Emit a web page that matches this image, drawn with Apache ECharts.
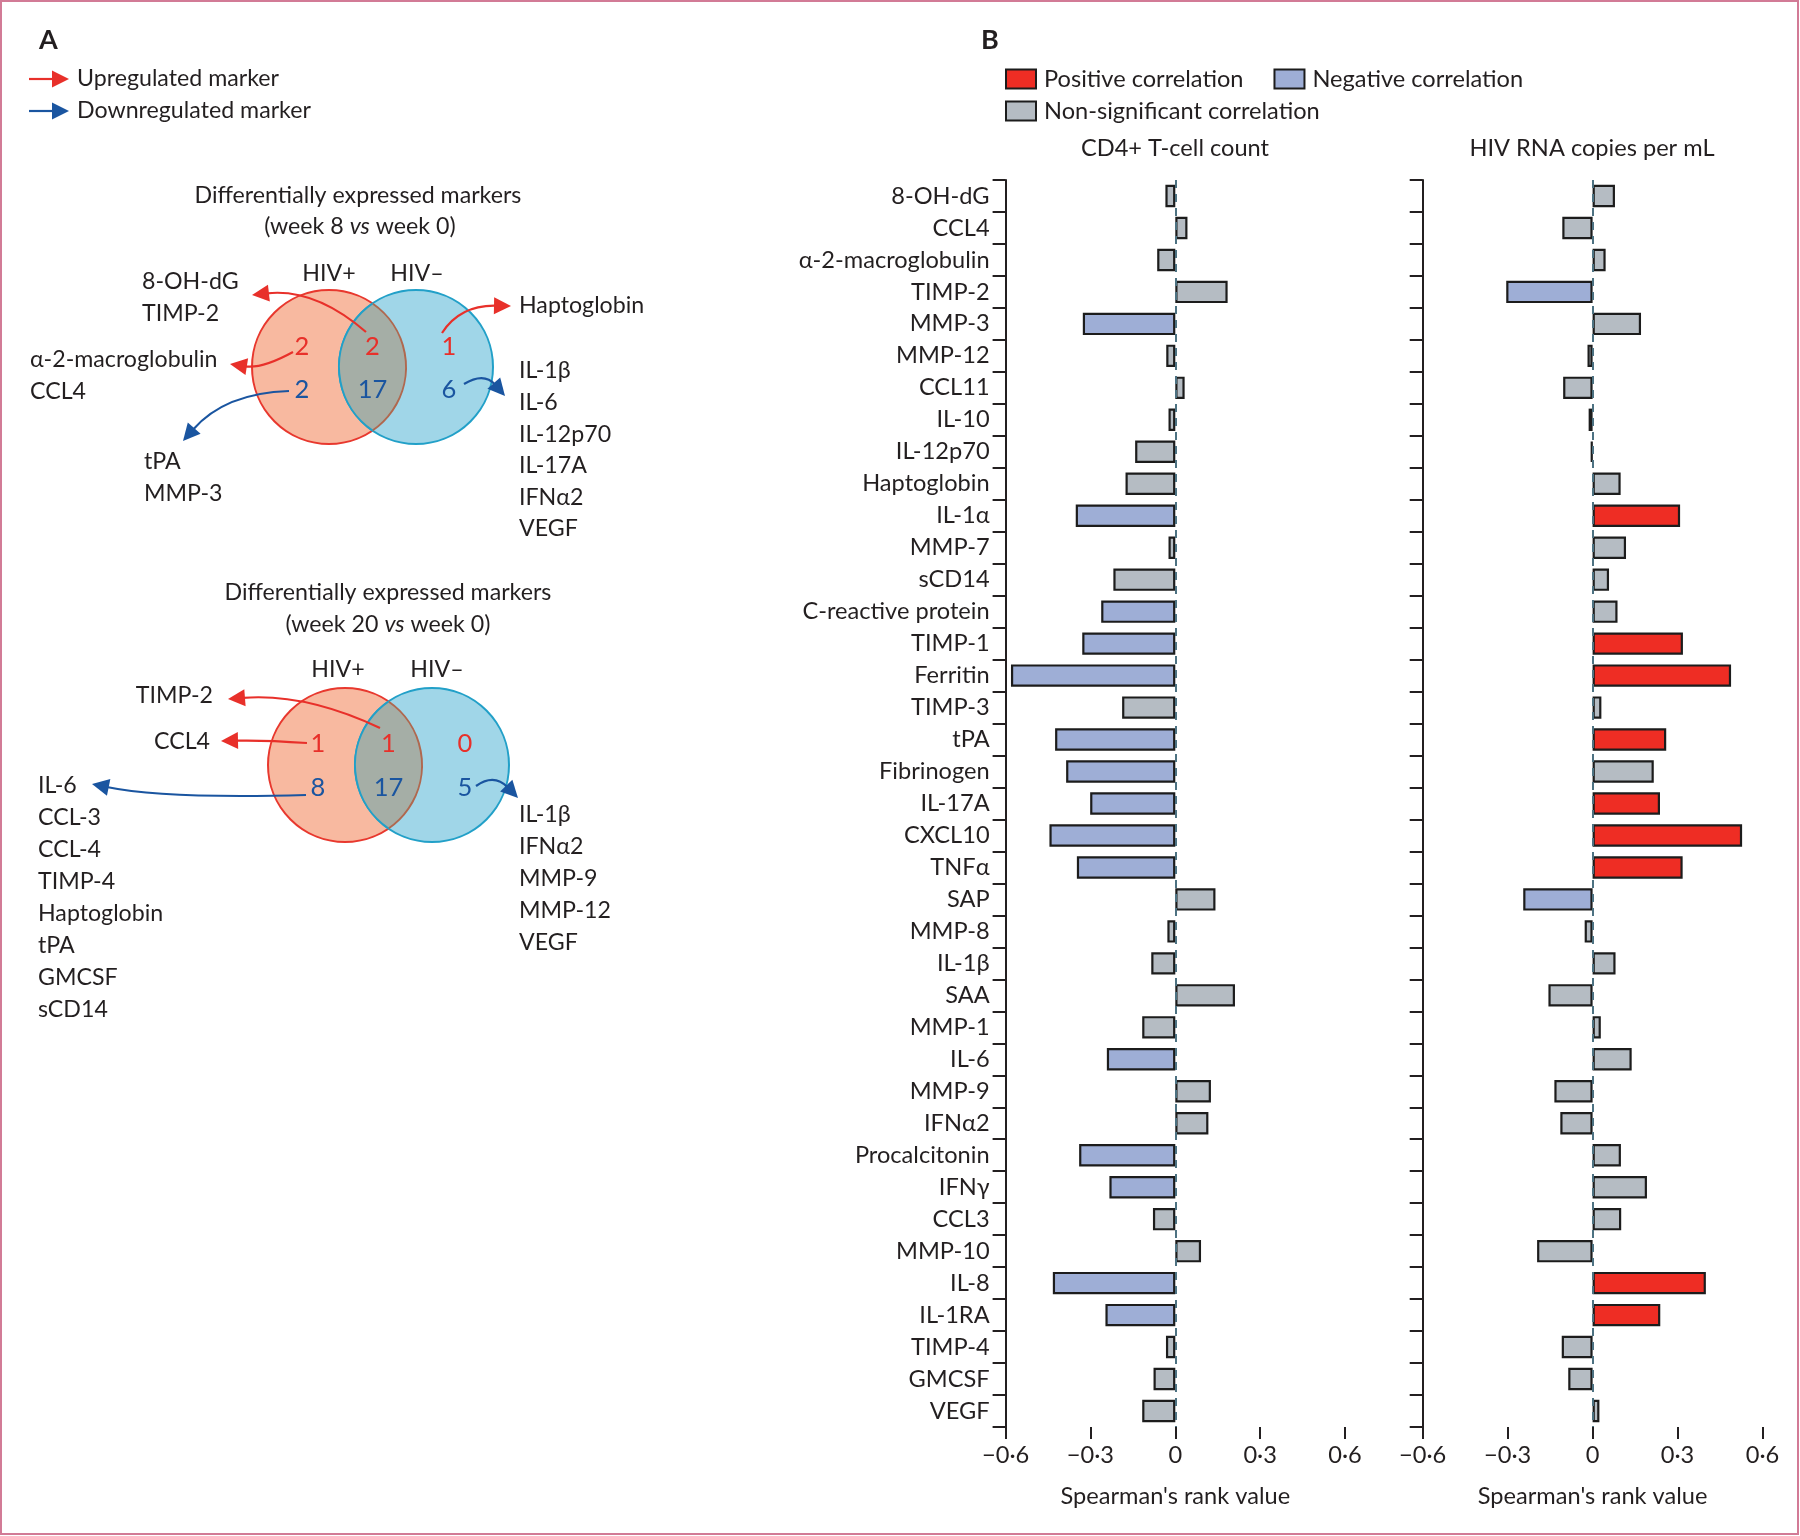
<!DOCTYPE html>
<html><head><meta charset="utf-8">
<script src="https://cdn.jsdelivr.net/npm/echarts@6/dist/echarts.min.js"></script>
<style>html,body{margin:0;padding:0;background:#fff}#c{width:1800px;height:1536px}</style>
</head><body><div id="c"></div>
<script>
// ---------- Panel B data ----------
const markers = ['8-OH-dG','CCL4','α-2-macroglobulin','TIMP-2','MMP-3','MMP-12','CCL11','IL-10','IL-12p70','Haptoglobin','IL-1α','MMP-7','sCD14','C-reactive protein','TIMP-1','Ferritin','TIMP-3','tPA','Fibrinogen','IL-17A','CXCL10','TNFα','SAP','MMP-8','IL-1β','SAA','MMP-1','IL-6','MMP-9','IFNα2','Procalcitonin','IFNγ','CCL3','MMP-10','IL-8','IL-1RA','TIMP-4','GMCSF','VEGF'];
const cd4Values = [-0.035,0.043,-0.064,0.185,-0.327,-0.032,0.033,-0.024,-0.142,-0.176,-0.352,-0.024,-0.219,-0.262,-0.329,-0.581,-0.188,-0.425,-0.386,-0.301,-0.445,-0.348,0.142,-0.028,-0.085,0.211,-0.117,-0.242,0.126,0.117,-0.34,-0.233,-0.079,0.091,-0.433,-0.247,-0.033,-0.077,-0.117];
const cd4Sig = ['ns','ns','ns','ns','neg','ns','ns','ns','ns','ns','neg','ns','ns','neg','neg','neg','ns','neg','neg','neg','neg','neg','ns','ns','ns','ns','ns','neg','ns','ns','neg','neg','ns','ns','neg','neg','ns','ns','ns'];
const hivValues = [0.079,-0.107,0.046,-0.305,0.171,-0.018,-0.104,-0.014,-0.006,0.099,0.309,0.118,0.058,0.088,0.319,0.489,0.031,0.26,0.216,0.238,0.528,0.318,-0.245,-0.028,0.081,-0.156,0.029,0.138,-0.135,-0.114,0.1,0.192,0.101,-0.196,0.4,0.239,-0.109,-0.086,0.024];
const hivSig = ['ns','ns','ns','neg','ns','ns','ns','ns','ns','ns','pos','ns','ns','ns','pos','pos','ns','pos','ns','pos','pos','pos','neg','ns','ns','ns','ns','ns','ns','ns','ns','ns','ns','ns','pos','pos','ns','ns','ns'];
const xTicks = [-0.6, -0.3, 0, 0.3, 0.6];
const legendNames = ['Positive correlation','Negative correlation','Non-significant correlation'];
const panelTitles = ['CD4+ T-cell count','HIV RNA copies per mL'];

// ---------- Panel A data ----------
const venn8Up = [2, 2, 1];     // HIV+ only, both, HIV- only
const venn8Down = [2, 17, 6];
const venn20Up = [1, 1, 0];
const venn20Down = [8, 17, 5];
const w8UpBoth = ['8-OH-dG','TIMP-2'];
const w8UpHivPos = ['α-2-macroglobulin','CCL4'];
const w8UpHivNeg = ['Haptoglobin'];
const w8DownHivPos = ['tPA','MMP-3'];
const w8DownHivNeg = ['IL-1β','IL-6','IL-12p70','IL-17A','IFNα2','VEGF'];
const w20UpBoth = ['TIMP-2'];
const w20UpHivPos = ['CCL4'];
const w20DownHivPos = ['IL-6','CCL-3','CCL-4','TIMP-4','Haptoglobin','tPA','GMCSF','sCD14'];
const w20DownHivNeg = ['IL-1β','IFNα2','MMP-9','MMP-12','VEGF'];

// ---------- styles ----------
const FONT = 'Lato, "Open Sans", sans-serif';
const FS_A = 23.2, FS_B = 23.6;
const INK = '#231f20';
const RED = '#e8302a', BLUE = '#1a55a0';
const sigColors = {pos:'#ee2d24', neg:'#9eaed6', ns:'#b5bcc3'};
const BORDER = '#1c1c1c';

function fmtTick(v){
  if (Math.abs(v) < 1e-9) return '0';
  return (v < 0 ? '\u2212' : '') + Math.abs(v).toFixed(1).replace('.', '\u00b7');
}

const G = [];
function txt(x, y, text, o){
  o = o || {};
  const st = {text:text, fontSize:o.size||FS_A, fontFamily:FONT,
    fontWeight:o.weight||'normal', fill:o.color||INK, textAlign:o.align||'left', textVerticalAlign:'middle'};
  if (o.rich) st.rich = o.rich;
  G.push({type:'text', x:x, y:y, z:o.z||20, style:st});
}
function list(x, y0, items, step, align){
  items.forEach((t,i)=>txt(x, y0 + i*step, t, {align:align||'left'}));
}
function arrow(x0, y0, cx, cy, tx, ty, color){
  const L = 17, W = 8.5;
  let dx = tx - cx, dy = ty - cy; const d = Math.hypot(dx, dy); dx/=d; dy/=d;
  const bx = tx - dx*L, by = ty - dy*L;
  G.push({type:'bezierCurve', z:15, shape:{x1:x0, y1:y0, x2:bx+dx*2, y2:by+dy*2, cpx1:cx, cpy1:cy},
    style:{stroke:color, lineWidth:2.2, fill:null}});
  G.push({type:'polygon', z:15, shape:{points:[[tx,ty],[bx - dy*W, by + dx*W],[bx + dy*W, by - dx*W]]},
    style:{fill:color}});
}
function venn(cxR, cxB, cy, r, up, down, numY1, numY2){
  G.push({type:'circle', z:5, shape:{cx:cxR, cy:cy, r:r}, style:{fill:'#f8b9a0', stroke:'#e8382e', lineWidth:2}});
  G.push({type:'circle', z:6, shape:{cx:cxB, cy:cy, r:r}, style:{fill:'#a0d6e8', stroke:'#22a0c8', lineWidth:2}});
  const xm = (cxR + cxB)/2, half = (cxB - cxR)/2, h = Math.sqrt(r*r - half*half);
  const th = Math.atan2(h, half);
  const pts = [];
  const N = 40;
  for (let k=0;k<=N;k++){ const a = -th + 2*th*k/N; pts.push([cxR + r*Math.cos(a), cy + r*Math.sin(a)]); }
  for (let k=0;k<=N;k++){ const a = Math.PI - th + 2*th*k/N; pts.push([cxB + r*Math.cos(a), cy + r*Math.sin(a)]); }
  G.push({type:'polygon', z:7, shape:{points:pts}, style:{fill:'#a5aea6'}});
  G.push({type:'arc', z:8, shape:{cx:cxR, cy:cy, r:r, startAngle:-th, endAngle:th, clockwise:true}, style:{fill:null, stroke:'#b0684f', lineWidth:2}});
  G.push({type:'arc', z:8, shape:{cx:cxB, cy:cy, r:r, startAngle:Math.PI-th, endAngle:Math.PI+th, clockwise:true}, style:{fill:null, stroke:'#22a0c8', lineWidth:2}});
  const xs = [cxR - 27, xm, cxB + 33];
  up.forEach((n,i)=>txt(xs[i], numY1, String(n), {size:25.5, color:RED, align:'center'}));
  down.forEach((n,i)=>txt(xs[i], numY2, String(n), {size:25.5, color:BLUE, align:'center'}));
}

// Panel A header
txt(39, 40, 'A', {size:27, weight:'bold'});
arrow(29, 79, 40, 79, 69, 79, RED);
txt(77, 79, 'Upregulated marker');
arrow(29, 111, 40, 111, 69, 111, BLUE);
txt(77, 111, 'Downregulated marker');

const titleRich = {n:{fontSize:FS_A, fontFamily:FONT, fill:INK}, i:{fontSize:FS_A, fontFamily:FONT, fontStyle:'italic', fill:INK}};
// Venn week 8
txt(358, 196, 'Differentially expressed markers', {align:'center'});
txt(360, 227, '{n|(week 8 }{i|vs}{n| week 0)}', {align:'center', rich:titleRich});
txt(329, 274, 'HIV+', {align:'center'});
txt(417, 274, 'HIV\u2013', {align:'center'});
venn(329, 416, 367, 77, venn8Up, venn8Down, 347, 390);
list(142, 282, w8UpBoth, 32);
list(30, 360, w8UpHivPos, 32);
list(144, 462, w8DownHivPos, 32);
list(519, 306, w8UpHivNeg, 32);
list(519, 371, w8DownHivNeg, 31.6);
arrow(366, 332, 315, 288, 252, 295, RED);
arrow(293, 352, 262, 369, 230, 364, RED);
arrow(442, 333, 460, 305, 511, 306, RED);
arrow(289, 391, 225, 393, 183, 441, BLUE);
arrow(464, 384, 484, 372, 505, 396, BLUE);

// Venn week 20
txt(388, 593, 'Differentially expressed markers', {align:'center'});
txt(388, 625, '{n|(week 20 }{i|vs}{n| week 0)}', {align:'center', rich:titleRich});
txt(338, 670, 'HIV+', {align:'center'});
txt(437, 670, 'HIV\u2013', {align:'center'});
venn(345, 432, 765, 77, venn20Up, venn20Down, 744, 788);
list(213, 696, w20UpBoth, 32, 'right');
list(210, 742, w20UpHivPos, 32, 'right');
list(38, 786, w20DownHivPos, 31.9);
list(519, 815, w20DownHivNeg, 31.8);
arrow(380, 728, 306, 693, 228, 699, RED);
arrow(307, 743, 265, 740, 221, 741, RED);
arrow(306, 795, 165, 799, 92, 784, BLUE);
arrow(476, 786, 494, 773, 518, 798, BLUE);

// Panel B header / titles
txt(981, 40, 'B', {size:27, weight:'bold'});
txt(1175, 148, panelTitles[0], {align:'center', size:FS_B});
txt(1592, 148, panelTitles[1], {align:'center', size:FS_B});
// frame
G.push({type:'rect', z:1, shape:{x:1, y:1, width:1797, height:1533}, style:{fill:null, stroke:'#d27b96', lineWidth:2}});

// ---------- ECharts option ----------
const catAxisCommon = {
  type:'category', data:markers, inverse:true, boundaryGap:true,
  axisLine:{onZero:false, lineStyle:{color:INK, width:2}},
  axisTick:{show:true, inside:false, length:13, interval:0, lineStyle:{color:INK, width:2}},
  splitLine:{show:false}
};
const valAxisCommon = {
  type:'value', min:xTicks[0], max:xTicks[xTicks.length-1], interval:xTicks[1]-xTicks[0],
  splitLine:{show:false},
  axisLine:{onZero:false, lineStyle:{color:INK, width:2}},
  axisTick:{show:true, length:12, lineStyle:{color:INK, width:2}},
  axisLabel:{formatter:fmtTick, fontSize:FS_B, fontFamily:FONT, color:INK, margin:16},
  name:"Spearman's rank value", nameLocation:'middle', nameGap:57,
  nameTextStyle:{fontSize:FS_B, fontFamily:FONT, color:INK}
};
function barData(vals, sig){
  return vals.map((v,i)=>({value:v, itemStyle:{color:sigColors[sig[i]]}}));
}
const zeroLine = {symbol:'none', silent:true, label:{show:false},
  lineStyle:{type:[8,6], color:'#4d7282', width:2}, data:[{xAxis:0}]};

const legendText = {fontSize:FS_B, fontFamily:FONT, color:INK, padding:[0,0,0,3]};
const option = {
  animation:false,
  backgroundColor:'#fff',
  grid:[
    {left:1005.6, width:339.4, top:180, height:1247},
    {left:1422.7, width:339.8, top:180, height:1247},
    {left:0, top:0, width:10, height:10, show:false}
  ],
  xAxis:[
    Object.assign({gridIndex:0}, valAxisCommon),
    Object.assign({gridIndex:1}, valAxisCommon),
    {gridIndex:2, type:'value', show:false}
  ],
  yAxis:[
    Object.assign({gridIndex:0, axisLabel:{interval:0, fontSize:FS_B, fontFamily:FONT, color:INK, margin:16}}, catAxisCommon),
    Object.assign({gridIndex:1, axisLabel:{show:false}}, catAxisCommon),
    {gridIndex:2, type:'category', show:false, data:['x']}
  ],
  legend:[
    {left:1005, top:67, padding:0, itemWidth:30, itemHeight:19, itemGap:30, icon:'rect',
     data:legendNames.slice(0,2), selectedMode:false,
     itemStyle:{borderColor:BORDER, borderWidth:2}, textStyle:legendText},
    {left:1005, top:99, padding:0, itemWidth:30, itemHeight:19, icon:'rect',
     data:legendNames.slice(2), selectedMode:false,
     itemStyle:{borderColor:BORDER, borderWidth:2}, textStyle:legendText}
  ],
  series:[
    {type:'bar', xAxisIndex:0, yAxisIndex:0, barWidth:'70%', data:barData(cd4Values, cd4Sig),
     itemStyle:{borderColor:BORDER, borderWidth:2.2}, markLine:zeroLine, z:3},
    {type:'bar', xAxisIndex:1, yAxisIndex:1, barWidth:'70%', data:barData(hivValues, hivSig),
     itemStyle:{borderColor:BORDER, borderWidth:2.2}, markLine:zeroLine, z:3},
    {type:'bar', name:legendNames[0], xAxisIndex:2, yAxisIndex:2, data:[], itemStyle:{color:sigColors.pos, borderColor:BORDER, borderWidth:2}},
    {type:'bar', name:legendNames[1], xAxisIndex:2, yAxisIndex:2, data:[], itemStyle:{color:sigColors.neg, borderColor:BORDER, borderWidth:2}},
    {type:'bar', name:legendNames[2], xAxisIndex:2, yAxisIndex:2, data:[], itemStyle:{color:sigColors.ns, borderColor:BORDER, borderWidth:2}}
  ],
  graphic:G
};
const chart = echarts.init(document.getElementById('c'), null, {renderer:'canvas'});
chart.setOption(option);
</script>
</body></html>
